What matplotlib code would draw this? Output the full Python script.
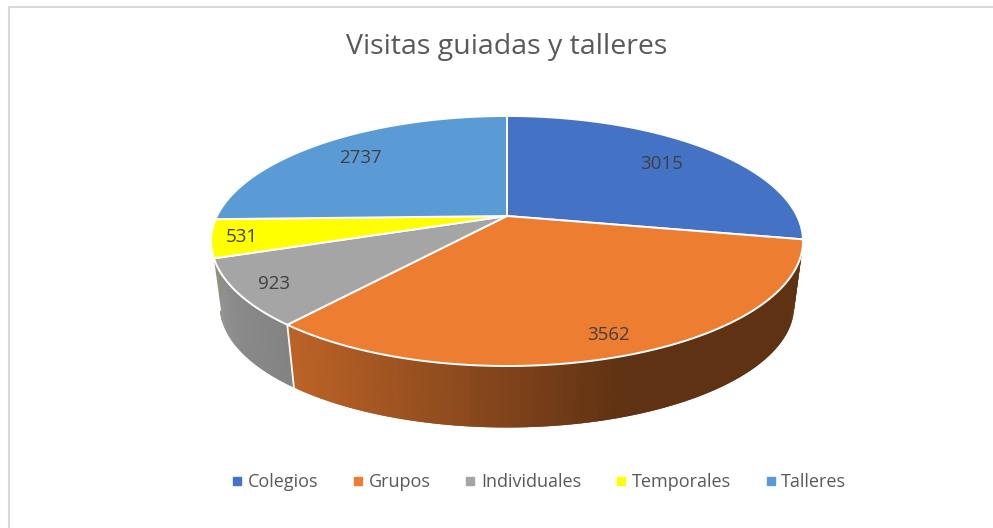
import matplotlib
matplotlib.use('Agg')
import matplotlib.pyplot as plt
import numpy as np
from matplotlib.lines import Line2D

plt.rcParams['font.family'] = ['Open Sans', 'DejaVu Sans']

# datos
categorias = ['Colegios', 'Grupos', 'Individuales', 'Temporales', 'Talleres']
visitas = [3015, 3562, 923, 531, 2737]
colores = ['#4472C4', '#ED7D31', '#A5A5A5', '#FFFF00', '#5B9BD5']
radio_etiqueta = [0.76, 0.87, 0.88, 0.90, 0.78]

# proyeccion del disco (en pixeles de la imagen)
CX, CY = 507, 216
A, B, K = 290, 120, 0.2
ALTO = 66
ESCALA_BASE = 0.97
# la pared gris tapa casi toda la amarilla, como en el original
SOLAPE_PARED = [0, 0, np.radians(6), 0, 0]


def proyectar(ang, r=1.0, base=False):
    # ang en radianes, sentido horario desde arriba
    x = r * np.sin(ang)
    y = r * np.cos(ang)
    d = 1 + K * y
    esc = ESCALA_BASE if base else 1.0
    px = CX + esc * A * x / d
    py = CY - esc * B * y / d + (ALTO if base else 0)
    return px, py


def sombra(px):
    return np.interp(px, [211, 290, 620, 802], [0.85, 0.79, 0.40, 0.40])


fig = plt.figure(figsize=(9.93, 5.28), dpi=100)
ax = fig.add_axes([0, 0, 1, 1])
ax.set_xlim(0, 993)
ax.set_ylim(528, 0)
ax.axis('off')

# marco del grafico
ax.plot([9, 9, 993], [528, 7, 7], color='#d9d9d9', lw=1.5, zorder=1)

total = sum(visitas)
bordes = np.concatenate([[0], np.cumsum(visitas)]) / total * 2 * np.pi

# pared lateral: primero la amarilla para que la gris quede encima
orden = [0, 1, 3, 4, 2]
for z, i in enumerate(orden):
    rgb = np.array(matplotlib.colors.to_rgb(colores[i]))
    angs = np.linspace(bordes[i], bordes[i + 1] + SOLAPE_PARED[i], 120)
    for a0, a1 in zip(angs[:-2], angs[2:]):
        x0, y0 = proyectar(a0)
        x1, y1 = proyectar(a1)
        x2, y2 = proyectar(a1, base=True)
        x3, y3 = proyectar(a0, base=True)
        c = rgb * sombra((x0 + x1) / 2)
        ax.fill([x0, x1, x2, x3], [y0, y1, y2, y3], color=c, lw=0, zorder=2)

# separaciones de la pared
for i, b in enumerate(bordes[:-1]):
    if np.cos(b) < -K:
        b2 = b + SOLAPE_PARED[i - 1]
        x0, y0 = proyectar(b2)
        x1, y1 = proyectar(b2, base=True)
        ax.plot([x0, x1], [y0, y1], color='white', lw=1.3, zorder=3)

# cara superior
for i, color in enumerate(colores):
    angs = np.linspace(bordes[i], bordes[i + 1], 200)
    px, py = proyectar(angs)
    ax.fill(np.r_[CX, px], np.r_[CY, py], facecolor=color, edgecolor='white',
            lw=1.4, joinstyle='round', zorder=4)

# etiquetas
for i, v in enumerate(visitas):
    medio = (bordes[i] + bordes[i + 1]) / 2
    px, py = proyectar(medio, radio_etiqueta[i])
    ax.text(px, py + 1, str(v), ha='center', va='center', fontsize=13.5,
            color='#404040', zorder=5)

ax.text(507, 47, 'Visitas guiadas y talleres', ha='center', va='center',
        fontsize=20.5, color='#595959')

marcas = [Line2D([], [], linestyle='none', marker='s', markersize=5.5, color=c)
          for c in colores]
ax.legend(marcas, categorias, ncol=5, frameon=False, loc='center',
          bbox_to_anchor=(537 / 993, 1 - 482 / 528), fontsize=13,
          labelcolor='#595959', columnspacing=1.7, handletextpad=0.1,
          handlelength=1.0)

fig.savefig('out.png', dpi=100)
